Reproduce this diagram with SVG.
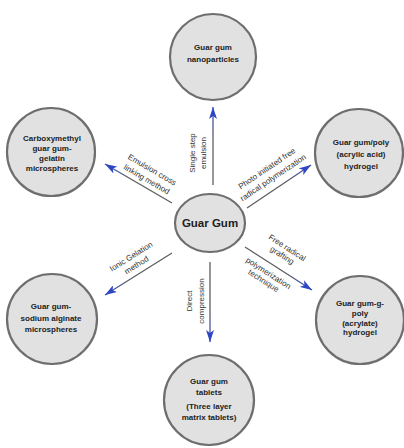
<svg xmlns="http://www.w3.org/2000/svg" width="404" height="448" viewBox="0 0 404 448">
<defs>
<style>
.node{fill:#e1e1e1;stroke:#6e6e6e;stroke-width:2.2}
.nt{font-family:"Liberation Sans",Arial,sans-serif;font-size:8px;font-weight:bold;fill:#222;text-anchor:middle}
.ct{font-family:"Liberation Sans",Arial,sans-serif;font-size:11.5px;font-weight:bold;fill:#222;text-anchor:middle}
.et{font-family:"Liberation Sans",Arial,sans-serif;font-size:8px;fill:#333;text-anchor:middle}
.edge{fill:none;stroke-width:1.3;marker-end:url(#ah)}
</style>
<marker id="ah" markerUnits="userSpaceOnUse" markerWidth="13" markerHeight="8" refX="12" refY="4" orient="auto">
<path d="M0,0 L12,4 L0,8 L3,4 z" fill="#2f46c2"/>
</marker>
<linearGradient id="gU" gradientUnits="userSpaceOnUse" x1="213" y1="185" x2="213" y2="107"><stop offset="0.6" stop-color="#5e5e5e"/><stop offset="1" stop-color="#3a52c8"/></linearGradient>
<linearGradient id="gD" gradientUnits="userSpaceOnUse" x1="210" y1="262" x2="210" y2="342"><stop offset="0.6" stop-color="#5e5e5e"/><stop offset="1" stop-color="#3a52c8"/></linearGradient>
<linearGradient id="gUL" gradientUnits="userSpaceOnUse" x1="172" y1="203" x2="105" y2="164"><stop offset="0.6" stop-color="#5e5e5e"/><stop offset="1" stop-color="#3a52c8"/></linearGradient>
<linearGradient id="gUR" gradientUnits="userSpaceOnUse" x1="247" y1="208" x2="311" y2="165"><stop offset="0.6" stop-color="#5e5e5e"/><stop offset="1" stop-color="#3a52c8"/></linearGradient>
<linearGradient id="gLL" gradientUnits="userSpaceOnUse" x1="172" y1="253" x2="105" y2="295"><stop offset="0.6" stop-color="#5e5e5e"/><stop offset="1" stop-color="#3a52c8"/></linearGradient>
<linearGradient id="gLR" gradientUnits="userSpaceOnUse" x1="245" y1="247" x2="312" y2="290"><stop offset="0.6" stop-color="#5e5e5e"/><stop offset="1" stop-color="#3a52c8"/></linearGradient>
</defs>
<rect width="404" height="448" fill="#fff"/>

<g id="connectors">
<g id="e-up">
<line class="edge" x1="213" y1="185" x2="213" y2="107" stroke="url(#gU)"/>
<g transform="translate(213,153) rotate(-90)">
<text class="et" x="0" y="-18">Single step</text>
<text class="et" x="0" y="-7">emulsion</text>
</g>
</g>
<g id="e-down">
<line class="edge" x1="210" y1="262" x2="210" y2="342" stroke="url(#gD)"/>
<g transform="translate(210,301) rotate(-90)">
<text class="et" x="0" y="-18">Direct</text>
<text class="et" x="0" y="-6">compression</text>
</g>
</g>
<g id="e-ul">
<line class="edge" x1="172" y1="203" x2="105" y2="164" stroke="url(#gUL)"/>
<g transform="translate(138.5,183.5) rotate(30)">
<text class="et" x="5" y="-16">Emulsion cross</text>
<text class="et" x="5" y="-5">linking method</text>
</g>
</g>
<g id="e-ur">
<line class="edge" x1="247" y1="208" x2="311" y2="165" stroke="url(#gUR)"/>
<g transform="translate(279,186.5) rotate(-34)">
<text class="et" x="0" y="-19">Photo initiated free</text>
<text class="et" x="0" y="-8">radical polymerization</text>
</g>
</g>
<g id="e-ll">
<line class="edge" x1="172" y1="253" x2="105" y2="295" stroke="url(#gLL)"/>
<g transform="translate(138.5,274) rotate(-32)">
<text class="et" x="3" y="-16">Ionic Gelation</text>
<text class="et" x="3" y="-6">method</text>
</g>
</g>
<g id="e-lr">
<line class="edge" x1="245" y1="247" x2="312" y2="290" stroke="url(#gLR)"/>
<g transform="translate(278.5,268.5) rotate(32.7)">
<text class="et" x="-4" y="-19.5">Free radical</text>
<text class="et" x="-4" y="-10.5">grafting</text>
<text class="et" x="-6" y="12">polymerization</text>
<text class="et" x="-6" y="21">technique</text>
</g>
</g>
</g>

<g id="n-center">
<ellipse class="node" cx="210" cy="223" rx="35" ry="29"/>
<text class="ct" x="210" y="227">Guar Gum</text>
</g>
<g id="n-top">
<circle class="node" cx="213" cy="57" r="43"/>
<text class="nt" x="213" y="50">Guar gum</text>
<text class="nt" x="213" y="62">nanoparticles</text>
</g>
<g id="n-ul">
<circle class="node" cx="51" cy="152" r="44"/>
<text class="nt" x="52" y="141">Carboxymethyl</text>
<text class="nt" x="52" y="151">guar gum-</text>
<text class="nt" x="52" y="161">gelatin</text>
<text class="nt" x="52" y="171">microspheres</text>
</g>
<g id="n-ur">
<circle class="node" cx="359" cy="153" r="44"/>
<text class="nt" x="361" y="145">Guar gum/poly</text>
<text class="nt" x="361" y="157">(acrylic acid)</text>
<text class="nt" x="361" y="169">hydrogel</text>
</g>
<g id="n-ll">
<circle class="node" cx="52" cy="319" r="45"/>
<text class="nt" x="51" y="309">Guar gum-</text>
<text class="nt" x="51" y="320.5">sodium alginate</text>
<text class="nt" x="51" y="332">microspheres</text>
</g>
<g id="n-lr">
<circle class="node" cx="360" cy="320" r="44"/>
<text class="nt" x="360" y="306">Guar gum-g-</text>
<text class="nt" x="360" y="316">poly</text>
<text class="nt" x="360" y="325.5">(acrylate)</text>
<text class="nt" x="360" y="335">hydrogel</text>
</g>
<g id="n-bottom">
<circle class="node" cx="209" cy="400" r="45"/>
<text class="nt" x="209" y="384">Guar gum</text>
<text class="nt" x="209" y="395">tablets</text>
<text class="nt" x="209" y="409">(Three layer</text>
<text class="nt" x="209" y="420">matrix tablets)</text>
</g>
</svg>
